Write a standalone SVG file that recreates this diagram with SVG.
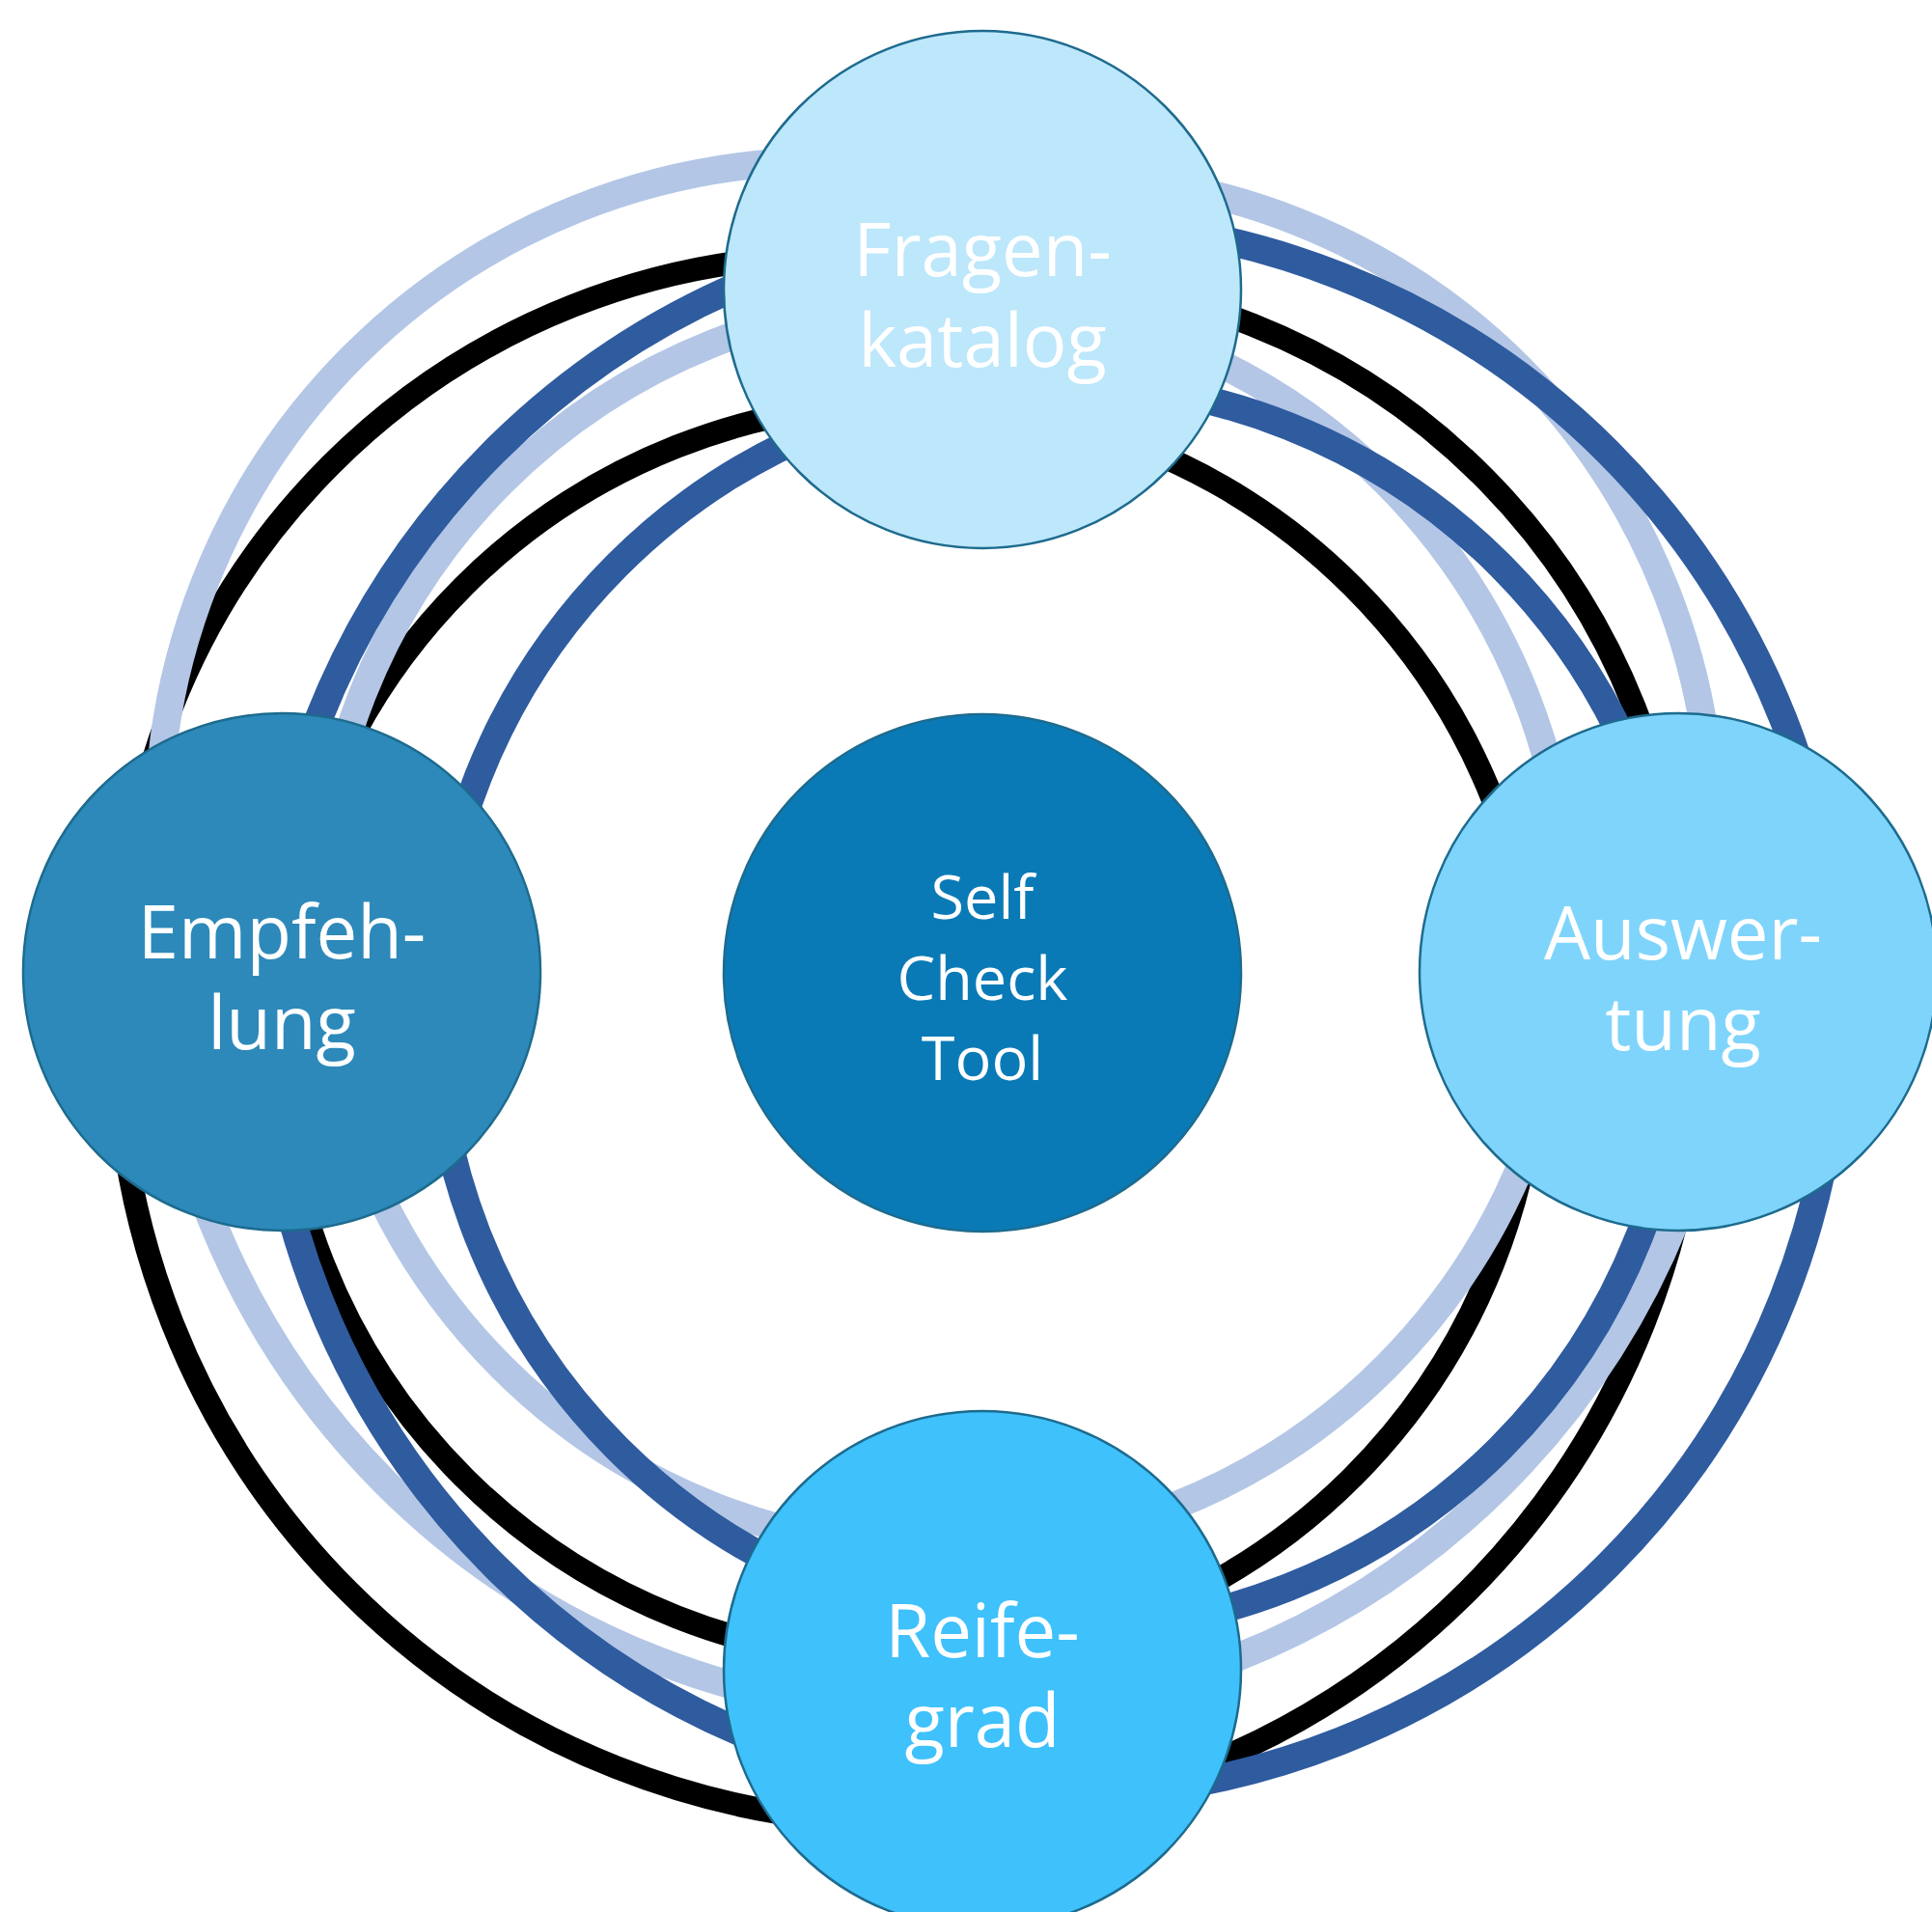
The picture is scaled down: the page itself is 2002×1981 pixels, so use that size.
<svg xmlns="http://www.w3.org/2000/svg" width="2002" height="1981" viewBox="0 0 2002 1981">
<style>
.ring{fill:none}
.blk{stroke:#000000;stroke-width:24}
.lb{stroke:#B3C6E6;stroke-width:29}
.db{stroke:#2F5B9F;stroke-width:29}
.node{stroke:#1D6B8E;stroke-width:2.5}
.lbl{font-family:"Open Sans","Noto Sans","DejaVu Sans",sans-serif;fill:#FFFFFF;text-anchor:middle}
.big{font-size:76px}
.mid{font-size:63px}
</style>
<defs>
  <clipPath id="qTL"><rect x="0" y="0" width="1018" height="1008"/></clipPath>
  <clipPath id="qTR"><rect x="1018" y="0" width="984" height="1008"/></clipPath>
  <clipPath id="qB"><rect x="0" y="1008" width="2002" height="973"/></clipPath>
</defs>
<rect width="2002" height="1981" fill="#FFFFFF"/>
<g id="rings">
  <circle class="ring blk" cx="941" cy="1069" r="652"/>
  <circle class="ring blk" cx="866" cy="1005" r="740" clip-path="url(#qTL)"/>
  <circle class="ring blk" cx="1038" cy="992" r="705" clip-path="url(#qTR)"/>
  <circle class="ring blk" cx="941" cy="1069" r="820" clip-path="url(#qB)"/>
  <circle class="ring lb" cx="978" cy="958" r="648"/>
  <circle class="ring lb" cx="854" cy="857" r="690" clip-path="url(#qTL)"/>
  <circle class="ring lb" cx="1094" cy="862" r="680" clip-path="url(#qTR)"/>
  <circle class="ring lb" cx="978" cy="958" r="818" clip-path="url(#qB)"/>
  <circle class="ring db" cx="1097" cy="1043" r="647"/>
  <circle class="ring db" cx="1089" cy="1045" r="816"/>
</g>
<g id="node-fragenkatalog">
  <circle class="node" cx="1018" cy="300" r="268" fill="#BDE7FB"/>
  <text class="lbl big" x="1018" y="286">Fragen-</text>
  <text class="lbl big" x="1018" y="380">katalog</text>
</g>
<g id="node-selfchecktool">
  <circle class="node" cx="1018" cy="1008" r="268" fill="#0A7AB7"/>
  <text class="lbl mid" x="1018" y="952">Self</text>
  <text class="lbl mid" x="1018" y="1036">Check</text>
  <text class="lbl mid" x="1018" y="1119">Tool</text>
</g>
<g id="node-empfehlung">
  <circle class="node" cx="292" cy="1007" r="268" fill="#2D89BA"/>
  <text class="lbl big" x="292" y="993">Empfeh-</text>
  <text class="lbl big" x="292" y="1087">lung</text>
</g>
<g id="node-auswertung">
  <circle class="node" cx="1739" cy="1007" r="268" fill="#7FD4FC"/>
  <text class="lbl big" x="1744" y="994">Auswer-</text>
  <text class="lbl big" x="1744" y="1088">tung</text>
</g>
<g id="node-reifegrad">
  <circle class="node" cx="1018" cy="1730" r="268" fill="#3FC1FB"/>
  <text class="lbl big" x="1018" y="1717">Reife-</text>
  <text class="lbl big" x="1018" y="1810">grad</text>
</g>
</svg>
